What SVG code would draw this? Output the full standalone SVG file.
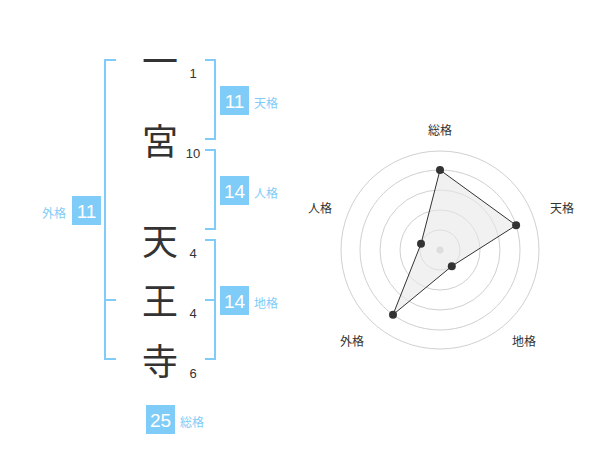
<svg xmlns="http://www.w3.org/2000/svg" width="600" height="470" viewBox="0 0 600 470">
<style>
.kanji{font-family:"Noto Sans CJK JP","Noto Sans CJK SC",sans-serif;font-size:36px;fill:#333;text-anchor:middle}
.num{font-family:"Liberation Sans",Arial,sans-serif;font-size:13px;fill:#333;text-anchor:middle}
.br{fill:none;stroke:#80ccf8;stroke-width:2}
.box{fill:#80ccf8}
.bv{font-family:"Liberation Sans",Arial,sans-serif;font-size:19px;fill:#fff;text-anchor:middle}
.bl{font-family:"Noto Sans CJK JP","Noto Sans CJK SC",sans-serif;font-size:12px;fill:#80ccf8}
.ring{fill:none;stroke:#d0d0d0;stroke-width:1}
.rl{font-family:"Noto Sans CJK JP","Noto Sans CJK SC",sans-serif;font-size:12px;fill:#333;text-anchor:middle}
.dot{fill:#333}
</style>
<rect width="600" height="470" fill="#fff"/>
<g id="name">
<g id="c1"><text class="kanji" x="160" y="75">一</text><text class="num" x="193" y="78">1</text></g>
<g id="c2"><text class="kanji" x="160" y="155">宮</text><text class="num" x="193" y="158">10</text></g>
<g id="c3"><text class="kanji" x="160" y="255">天</text><text class="num" x="193" y="258">4</text></g>
<g id="c4"><text class="kanji" x="160" y="315">王</text><text class="num" x="193" y="318">4</text></g>
<g id="c5"><text class="kanji" x="160" y="375">寺</text><text class="num" x="193" y="378">6</text></g>
</g>
<g id="connectors">
<path class="br" d="M116,60 H105 V359 H116 M105,300 H116"/>
<path class="br" d="M205,60 H215 V139 H205"/>
<path class="br" d="M205,150 H215 V229 H205"/>
<path class="br" d="M205,240 H215 V359 H205 M205,300 H215"/>
</g>
<g id="tenkaku"><rect class="box" x="220" y="86" width="29" height="29"/><text class="bv" x="234.5" y="108">11</text><text class="bl" x="254" y="108">天格</text></g>
<g id="jinkaku"><rect class="box" x="220" y="176" width="29" height="29"/><text class="bv" x="234.5" y="198">14</text><text class="bl" x="254" y="198">人格</text></g>
<g id="chikaku"><rect class="box" x="220" y="286" width="29" height="29"/><text class="bv" x="234.5" y="308">14</text><text class="bl" x="254" y="308">地格</text></g>
<g id="gaikaku"><rect class="box" x="72" y="196" width="29" height="29"/><text class="bv" x="86.5" y="218">11</text><text class="bl" x="66" y="218" text-anchor="end">外格</text></g>
<g id="soukaku"><rect class="box" x="146" y="405" width="29" height="29"/><text class="bv" x="160.5" y="427">25</text><text class="bl" x="180" y="427">総格</text></g>
<g id="radar">
<circle class="ring" cx="440" cy="250" r="20"/>
<circle class="ring" cx="440" cy="250" r="40"/>
<circle class="ring" cx="440" cy="250" r="60"/>
<circle class="ring" cx="440" cy="250" r="80"/>
<circle class="ring" cx="440" cy="250" r="99"/>
<circle cx="440" cy="250" r="3.5" fill="#ccc"/>
<polygon points="440,170 516.1,225.3 451.8,266.2 393,314.7 421,243.8" fill="#e8e8e8" fill-opacity="0.6" stroke="#333" stroke-width="1"/>
<circle class="dot" cx="440" cy="170" r="4"/>
<circle class="dot" cx="516.1" cy="225.3" r="4"/>
<circle class="dot" cx="451.8" cy="266.2" r="4"/>
<circle class="dot" cx="393" cy="314.7" r="4"/>
<circle class="dot" cx="421" cy="243.8" r="4"/>
<text class="rl" x="440" y="135">総格</text>
<text class="rl" x="562" y="213">天格</text>
<text class="rl" x="524" y="346">地格</text>
<text class="rl" x="352" y="346">外格</text>
<text class="rl" x="320" y="213">人格</text>
</g>
</svg>
